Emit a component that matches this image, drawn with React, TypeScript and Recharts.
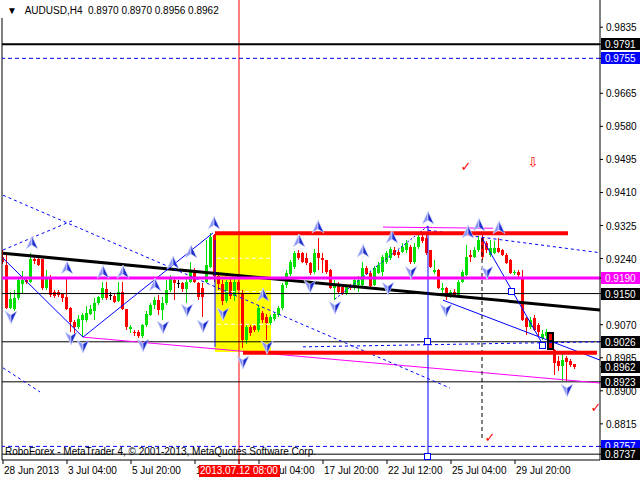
import { ComposedChart, Bar, Scatter, XAxis, YAxis, ReferenceLine, ReferenceArea } from 'recharts';

const FONT = '"Liberation Sans", Arial, sans-serif';
const GREEN = '#00e000';
const RED = '#ff0000';
const BLUE = '#0000ff';
const MAGENTA = '#ff00ff';

// AUDUSD H4, first bar 28 Jun 2013 12:00 -- [open, high, low, close]
const candles = [
  [0.9245, 0.9262, 0.9225, 0.9232], [0.9223, 0.9254, 0.9110, 0.9113], [0.9113, 0.9155, 0.9110, 0.9135], [0.9110, 0.9159, 0.9105, 0.9138],
  [0.9138, 0.9190, 0.9133, 0.9185], [0.9175, 0.9207, 0.9152, 0.9185], [0.9185, 0.9190, 0.9175, 0.9181], [0.9181, 0.9254, 0.9176, 0.9238],
  [0.9238, 0.9244, 0.9225, 0.9234], [0.9238, 0.9250, 0.9220, 0.9223], [0.9238, 0.9240, 0.9160, 0.9164], [0.9164, 0.9211, 0.9159, 0.9187],
  [0.9187, 0.9198, 0.9142, 0.9146], [0.9155, 0.9160, 0.9138, 0.9144], [0.9155, 0.9159, 0.9141, 0.9146], [0.9149, 0.9151, 0.9129, 0.9138],
  [0.9142, 0.9190, 0.9108, 0.9110], [0.9112, 0.9115, 0.9050, 0.9078], [0.9078, 0.9082, 0.9044, 0.9063], [0.9063, 0.9095, 0.9060, 0.9085],
  [0.9082, 0.9100, 0.9038, 0.9095], [0.9082, 0.9118, 0.9078, 0.9100], [0.9098, 0.9121, 0.9095, 0.9110], [0.9106, 0.9138, 0.9082, 0.9125],
  [0.9125, 0.9144, 0.9121, 0.9141], [0.9138, 0.9181, 0.9133, 0.9164], [0.9161, 0.9181, 0.9133, 0.9138], [0.9146, 0.9155, 0.9133, 0.9146],
  [0.9144, 0.9151, 0.9126, 0.9129], [0.9131, 0.9181, 0.9129, 0.9155], [0.9155, 0.9181, 0.9108, 0.9110], [0.9110, 0.9110, 0.9056, 0.9063],
  [0.9060, 0.9069, 0.9048, 0.9065], [0.9052, 0.9056, 0.9040, 0.9048], [0.9052, 0.9056, 0.9035, 0.9041], [0.9041, 0.9073, 0.9035, 0.9069],
  [0.9069, 0.9104, 0.9065, 0.9098], [0.9095, 0.9125, 0.9092, 0.9121], [0.9121, 0.9140, 0.9110, 0.9133], [0.9133, 0.9146, 0.9095, 0.9108],
  [0.9108, 0.9140, 0.9082, 0.9126], [0.9126, 0.9184, 0.9121, 0.9159], [0.9159, 0.9198, 0.9155, 0.9190], [0.9185, 0.9192, 0.9133, 0.9177],
  [0.9177, 0.9185, 0.9164, 0.9177], [0.9177, 0.9180, 0.9154, 0.9161], [0.9161, 0.9190, 0.9126, 0.9180], [0.9180, 0.9231, 0.9177, 0.9205],
  [0.9211, 0.9216, 0.9177, 0.9180], [0.9177, 0.9180, 0.9133, 0.9141], [0.9164, 0.9177, 0.9090, 0.9141], [0.9180, 0.9288, 0.9177, 0.9223],
  [0.9218, 0.9305, 0.9215, 0.9295], [0.9300, 0.9303, 0.9180, 0.9195], [0.9195, 0.9205, 0.9160, 0.9175], [0.9175, 0.9185, 0.9120, 0.9130],
  [0.9130, 0.9185, 0.9125, 0.9180], [0.9180, 0.9190, 0.9135, 0.9145], [0.9145, 0.9190, 0.9130, 0.9180], [0.9180, 0.9185, 0.9150, 0.9158],
  [0.9152, 0.9160, 0.9010, 0.9031], [0.9031, 0.9070, 0.9020, 0.9064], [0.9064, 0.9069, 0.9040, 0.9048], [0.9066, 0.9070, 0.9050, 0.9056],
  [0.9056, 0.9120, 0.9050, 0.9113], [0.9100, 0.9105, 0.9075, 0.9082], [0.9090, 0.9098, 0.9031, 0.9074], [0.9074, 0.9095, 0.9069, 0.9090],
  [0.9085, 0.9102, 0.9080, 0.9098], [0.9095, 0.9118, 0.9090, 0.9113], [0.9113, 0.9177, 0.9108, 0.9172], [0.9172, 0.9210, 0.9165, 0.9203],
  [0.9200, 0.9236, 0.9195, 0.9231], [0.9218, 0.9260, 0.9213, 0.9254], [0.9254, 0.9262, 0.9236, 0.9241], [0.9254, 0.9257, 0.9228, 0.9231],
  [0.9241, 0.9254, 0.9223, 0.9228], [0.9228, 0.9231, 0.9198, 0.9203], [0.9205, 0.9265, 0.9200, 0.9254], [0.9254, 0.9293, 0.9211, 0.9241],
  [0.9241, 0.9254, 0.9203, 0.9236], [0.9236, 0.9236, 0.9200, 0.9205], [0.9211, 0.9213, 0.9161, 0.9164], [0.9164, 0.9185, 0.9133, 0.9172],
  [0.9170, 0.9180, 0.9150, 0.9154], [0.9167, 0.9170, 0.9146, 0.9149], [0.9149, 0.9172, 0.9146, 0.9170], [0.9172, 0.9175, 0.9159, 0.9164],
  [0.9167, 0.9190, 0.9159, 0.9185], [0.9172, 0.9195, 0.9155, 0.9185], [0.9172, 0.9231, 0.9170, 0.9216], [0.9216, 0.9220, 0.9198, 0.9200],
  [0.9203, 0.9208, 0.9167, 0.9170], [0.9172, 0.9220, 0.9170, 0.9216], [0.9203, 0.9231, 0.9200, 0.9223], [0.9205, 0.9249, 0.9195, 0.9244],
  [0.9231, 0.9260, 0.9226, 0.9254], [0.9241, 0.9270, 0.9236, 0.9265], [0.9262, 0.9270, 0.9246, 0.9249], [0.9257, 0.9262, 0.9241, 0.9249],
  [0.9257, 0.9280, 0.9254, 0.9270], [0.9262, 0.9288, 0.9254, 0.9280], [0.9270, 0.9275, 0.9226, 0.9231], [0.9231, 0.9280, 0.9226, 0.9270],
  [0.9270, 0.9300, 0.9265, 0.9295], [0.9295, 0.9300, 0.9280, 0.9285], [0.9293, 0.9300, 0.9249, 0.9254], [0.9262, 0.9262, 0.9216, 0.9218],
  [0.9205, 0.9236, 0.9201, 0.9211], [0.9211, 0.9213, 0.9162, 0.9164], [0.9159, 0.9177, 0.9150, 0.9164], [0.9164, 0.9167, 0.9133, 0.9141],
  [0.9141, 0.9159, 0.9138, 0.9154], [0.9154, 0.9162, 0.9141, 0.9146], [0.9146, 0.9185, 0.9144, 0.9180], [0.9180, 0.9211, 0.9177, 0.9205],
  [0.9198, 0.9275, 0.9195, 0.9244], [0.9249, 0.9262, 0.9231, 0.9244], [0.9244, 0.9270, 0.9241, 0.9262], [0.9262, 0.9298, 0.9257, 0.9288],
  [0.9293, 0.9300, 0.9236, 0.9244], [0.9280, 0.9285, 0.9254, 0.9262], [0.9249, 0.9288, 0.9244, 0.9267], [0.9254, 0.9285, 0.9251, 0.9267],
  [0.9267, 0.9293, 0.9254, 0.9257], [0.9262, 0.9265, 0.9246, 0.9249], [0.9249, 0.9254, 0.9226, 0.9228], [0.9236, 0.9240, 0.9200, 0.9203],
  [0.9203, 0.9211, 0.9198, 0.9206], [0.9206, 0.9211, 0.9193, 0.9198], [0.9193, 0.9211, 0.9080, 0.9082], [0.9087, 0.9090, 0.9043, 0.9064],
  [0.9064, 0.9090, 0.9060, 0.9082], [0.9087, 0.9095, 0.9054, 0.9056], [0.9069, 0.9074, 0.9040, 0.9051], [0.9036, 0.9056, 0.9030, 0.9046],
  [0.9040, 0.9060, 0.9030, 0.9052], [0.9046, 0.9050, 0.9005, 0.9010], [0.9005, 0.9008, 0.8941, 0.8972], [0.8977, 0.8990, 0.8950, 0.8964],
  [0.8964, 0.8995, 0.8926, 0.8979], [0.8985, 0.8990, 0.8925, 0.8975], [0.8977, 0.8983, 0.8962, 0.8966], [0.8970, 0.8970, 0.8956, 0.8962],
];

const timeTicks = [0, 16, 32, 48, 64, 80, 96, 112, 128];
const timeLabels = ['28 Jun 2013', '3 Jul 04:00', '5 Jul 20:00', '10 Jul 12:00', '15 Jul 04:00', '17 Jul 20:00', '22 Jul 12:00', '25 Jul 04:00', '29 Jul 20:00'];
const cursorBar = 59;
const cursorLabel = '2013.07.12 08:00';
const priceTicks = [0.9835, 0.9665, 0.958, 0.9495, 0.941, 0.9325, 0.924, 0.907, 0.8985, 0.89, 0.8815];
// prices flagged on the right scale
const tagPrices = [0.9791, 0.9755, 0.919, 0.915, 0.9026, 0.8962, 0.8923, 0.8757, 0.8737];
const blueTags = [0.9755, 0.8757];
const pinkTags = [0.919];

// fractal arrows [bar, price]
const upFractals = [
  [7.25, 0.928], [16, 0.9216], [25, 0.9205], [30, 0.9205], [38, 0.9172], [42.5, 0.9229], [47, 0.9257], [52.75, 0.9331],
  [65, 0.9146], [74, 0.9285], [78.75, 0.9321], [90, 0.9259], [97.25, 0.9295], [106.25, 0.9344], [116.25, 0.9308], [119, 0.9326], [124, 0.9319],
];
const downFractals = [
  [2, 0.909], [17, 0.9036], [20, 0.9015], [35, 0.9018], [40, 0.9064], [46, 0.9108], [50, 0.9067], [55, 0.9098], [60, 0.8974],
  [66, 0.9013], [76.75, 0.9169], [83, 0.9115], [96.25, 0.9164], [102, 0.9205], [110.75, 0.9108], [121, 0.9205], [141, 0.8902],
];
const checkMarks = [[115.75, 0.9478], [121.75, 0.8781], [148.25, 0.8856]];
const sellSignal = [[132.5, 0.9488]];
const anchorSquares = [[106.25, 0.9026], [106.25, 0.873], [127.25, 0.9154], [135, 0.9015]];
const stopMark = [[136.75, 0.9025]];

// drawn objects [bar, price] -> [bar, price]
const blackTrend = [[0, 0.9254], [149.25, 0.9108]];
const pinkSupport = [[20, 0.9038], [149.25, 0.892]];
const pinkTop = [[95, 0.9321], [122.5, 0.9318]];
const boxTop = [[53, 0.9305], [141.25, 0.9305]];
const boxBottom = [[60, 0.8998], [148.5, 0.8998]];
const dashFall = [[0, 0.9403], [111.75, 0.8907]];
const dashRise = [[0, 0.9262], [17.25, 0.9337]];
const dashLow = [[0, 0.8959], [9.25, 0.8897]];
const dashFlat = [[75, 0.9013], [149.25, 0.9026]];
const dashUpper = [[106.25, 0.9313], [149.25, 0.9255]];
const dashClimb = [[83, 0.9136], [106.25, 0.9324]];
const zigA = [[0, 0.9241], [20, 0.9038]];
const zigB = [[20, 0.9038], [52.5, 0.9306]];
const zigC = [[119.75, 0.9293], [135, 0.9018]];
const channelLow = [[110, 0.9133], [149.25, 0.8979]];
const blueVertA = [[53, 0.9288], [53, 0.9013]];
const blueVertB = [[106.25, 0.9324], [106.25, 0.8724]];
const blackVert = [[119.75, 0.9293], [119.75, 0.8774]];
const fibLevels = [0.9241, 0.9155, 0.9071];

const rows = candles.map(([o, h, l, c], i) => ({ i, o, h, l, c, range: [l, h] }));
const pts = (list: number[][]) => list.map(([i, p]) => ({ i, p }));
const seg = (s: number[][]) => [{ x: s[0][0], y: s[0][1] }, { x: s[1][0], y: s[1][1] }];

const Candle = (props: any) => {
  const { x, y, width, height, payload } = props;
  if (!payload || x == null || y == null) return null;
  const { o, h, l, c } = payload;
  const top = Math.min(y, y + height);
  const span = Math.abs(height);
  const toY = (v: number) => (h === l ? top : top + ((h - v) / (h - l)) * span);
  const color = c > o ? GREEN : c < o ? RED : '#000';
  const left = Math.round(x + width / 2 - 1.5);
  const bTop = Math.round(toY(Math.max(o, c)));
  const bBot = Math.round(toY(Math.min(o, c)));
  return (
    <g>
      <rect x={left + 1} y={Math.round(top)} width={1} height={Math.max(1, Math.round(top + span) - Math.round(top))} fill={color} />
      <rect x={left} y={bTop} width={3} height={Math.max(1, bBot - bTop)} fill={color} />
    </g>
  );
};

const FractalUp = ({ cx, cy }: any) => (
  <g stroke="#dfe2ff" strokeWidth={0.6}>
    <path d={`M${cx},${cy - 7}L${cx},${cy + 2}L${cx - 6},${cy + 6}Z`} fill="#8d96f4" />
    <path d={`M${cx},${cy - 7}L${cx + 6},${cy + 6}L${cx},${cy + 2}Z`} fill="#1d2ccf" />
  </g>
);

const FractalDown = ({ cx, cy }: any) => (
  <g stroke="#dfe2ff" strokeWidth={0.6}>
    <path d={`M${cx},${cy + 7}L${cx},${cy - 2}L${cx - 6},${cy - 6}Z`} fill="#8d96f4" />
    <path d={`M${cx},${cy + 7}L${cx + 6},${cy - 6}L${cx},${cy - 2}Z`} fill="#1d2ccf" />
  </g>
);

const Glyph = ({ cx, cy, char }: any) => (
  <text x={cx} y={cy} textAnchor="middle" dominantBaseline="central" fontSize={13} fontFamily="DejaVu Sans" fill={RED}>
    {char}
  </text>
);

const Square = ({ cx, cy }: any) => (
  <rect x={Math.round(cx) - 3.5} y={Math.round(cy) - 3.5} width={6} height={6} fill="#fff" stroke={BLUE} />
);

const StopGlyph = ({ cx, cy }: any) => (
  <g fill="none" stroke="#000" strokeWidth={2}>
    <rect x={Math.round(cx) - 2} y={Math.round(cy) - 9} width={5} height={8} />
    <rect x={Math.round(cx) - 2} y={Math.round(cy) - 1} width={5} height={8} />
  </g>
);

const PriceTick = ({ x, y, payload }: any) => {
  const v = payload.value;
  const text = v.toFixed(4);
  if (!tagPrices.includes(v)) {
    return (
      <text x={x} y={y + 4} textAnchor="start" fontSize={10} fontFamily={FONT} fill="#000">{text}</text>
    );
  }
  const bg = blueTags.includes(v) ? BLUE : pinkTags.includes(v) ? MAGENTA : '#000';
  const top = Math.round(y) - 6;
  return (
    <g>
      <rect x={601} y={top} width={39} height={12} fill={bg} />
      <text x={x - 1} y={top + 10} textAnchor="start" fontSize={10} fontFamily={FONT} fill="#fff">{text}</text>
    </g>
  );
};

const TimeTick = ({ x, y, payload }: any) => {
  const v = payload.value;
  if (v === cursorBar) {
    return (
      <g>
        <line x1={x} x2={x} y1={y - 6} y2={y - 2} stroke={RED} />
        <rect x={x - 40} y={y - 1} width={81} height={12} fill={RED} />
        <text x={x} y={y + 8} textAnchor="middle" fontSize={10} fontFamily={FONT} fill="#fff">{cursorLabel}</text>
      </g>
    );
  }
  return (
    <text x={x + 1} y={y + 8} textAnchor="start" fontSize={10} fontFamily={FONT} fill="#000">
      {timeLabels[timeTicks.indexOf(v)]}
    </text>
  );
};

const App = () => {
  return (
    <div style={{ position: 'absolute', top: 0, left: 0, width: 640, height: 480, background: '#fff' }}>
      <ComposedChart width={640} height={480} data={rows} margin={{ top: 0, right: 0, bottom: 0, left: 2 }}>
        <XAxis
          dataKey="i"
          type="number"
          domain={[-0.25, 149.25]}
          ticks={[...timeTicks, cursorBar]}
          interval={0}
          allowDataOverflow
          height={20}
          tickSize={4}
          tickMargin={2}
          stroke="#000"
          tick={<TimeTick />}
        />
        <YAxis
          orientation="right"
          type="number"
          domain={[0.8722, 0.9905]}
          ticks={[...priceTicks, ...tagPrices]}
          interval={0}
          allowDataOverflow
          width={40}
          tickSize={3}
          tickMargin={3}
          stroke="#000"
          tick={<PriceTick />}
        />

        <ReferenceArea x1={53} x2={67} y1={0.9} y2={0.9306} fill="#ffff00" fillOpacity={1} stroke="none" ifOverflow="visible" />
        {fibLevels.map((p) => (
          <ReferenceLine key={p} segment={[{ x: 53.5, y: p }, { x: 67, y: p }]} stroke="#fff" strokeDasharray="4 3" ifOverflow="visible" />
        ))}

        <Bar dataKey="range" barSize={3} shape={<Candle />} isAnimationActive={false} />

        <ReferenceLine x={-0.25} stroke="#000" ifOverflow="visible" />
        <ReferenceLine x={cursorBar} stroke={RED} ifOverflow="visible" />

        <ReferenceLine y={0.9791} stroke="#000" strokeWidth={2} ifOverflow="visible" />
        <ReferenceLine y={0.9755} stroke={BLUE} strokeDasharray="4 3" ifOverflow="visible" />
        <ReferenceLine y={0.915} stroke="#000" ifOverflow="visible" />
        <ReferenceLine y={0.9026} stroke="#000" ifOverflow="visible" />
        <ReferenceLine y={0.8923} stroke="#000" ifOverflow="visible" />
        <ReferenceLine y={0.8757} stroke={BLUE} strokeDasharray="4 3" ifOverflow="visible" />
        <ReferenceLine y={0.8737} stroke="#000" ifOverflow="visible" />

        <ReferenceLine segment={seg(blackTrend)} stroke="#000" strokeWidth={3} ifOverflow="visible" />
        <ReferenceLine segment={seg(pinkSupport)} stroke={MAGENTA} ifOverflow="visible" />
        <ReferenceLine segment={seg(pinkTop)} stroke={MAGENTA} ifOverflow="visible" />
        <ReferenceLine segment={seg(dashFall)} stroke={BLUE} strokeDasharray="3 3" ifOverflow="visible" />
        <ReferenceLine segment={seg(dashRise)} stroke={BLUE} strokeDasharray="3 3" ifOverflow="visible" />
        <ReferenceLine segment={seg(dashLow)} stroke={BLUE} strokeDasharray="3 3" ifOverflow="visible" />
        <ReferenceLine segment={seg(dashFlat)} stroke={BLUE} strokeDasharray="3 3" ifOverflow="visible" />
        <ReferenceLine segment={seg(dashUpper)} stroke={BLUE} strokeDasharray="3 3" ifOverflow="visible" />
        <ReferenceLine segment={seg(dashClimb)} stroke={BLUE} strokeDasharray="2 2" ifOverflow="visible" />
        <ReferenceLine segment={seg(zigA)} stroke={BLUE} ifOverflow="visible" />
        <ReferenceLine segment={seg(zigB)} stroke={BLUE} ifOverflow="visible" />
        <ReferenceLine segment={seg(zigC)} stroke={BLUE} ifOverflow="visible" />
        <ReferenceLine segment={seg(channelLow)} stroke={BLUE} ifOverflow="visible" />
        <ReferenceLine segment={seg(blueVertA)} stroke={BLUE} ifOverflow="visible" />
        <ReferenceLine segment={seg(blueVertB)} stroke={BLUE} ifOverflow="visible" />
        <ReferenceLine segment={seg(blackVert)} stroke="#000" strokeDasharray="4 3" ifOverflow="visible" />
        <ReferenceLine segment={seg(boxTop)} stroke={RED} strokeWidth={4} ifOverflow="visible" />
        <ReferenceLine segment={seg(boxBottom)} stroke={RED} strokeWidth={4} ifOverflow="visible" />
        <ReferenceLine y={0.919} stroke={MAGENTA} strokeWidth={3} ifOverflow="visible" />

        <Scatter data={pts(upFractals)} dataKey="p" shape={<FractalUp />} isAnimationActive={false} />
        <Scatter data={pts(downFractals)} dataKey="p" shape={<FractalDown />} isAnimationActive={false} />
        <Scatter data={pts(anchorSquares)} dataKey="p" shape={<Square />} isAnimationActive={false} />
        <Scatter data={pts(stopMark)} dataKey="p" shape={<StopGlyph />} isAnimationActive={false} />
        <Scatter data={pts(checkMarks)} dataKey="p" shape={<Glyph char="✓" />} isAnimationActive={false} />
        <Scatter data={pts(sellSignal)} dataKey="p" shape={<Glyph char="⇩" />} isAnimationActive={false} />
      </ComposedChart>

      <div style={{ position: 'absolute', top: 0, left: 0, height: 18, padding: '0 4px 0 7px', background: '#fff', fontFamily: FONT, fontSize: 10, lineHeight: '21px', color: '#000', whiteSpace: 'pre' }}>
        {'▼   AUDUSD,H4  0.8970 0.8970 0.8956 0.8962'}
      </div>
      <div style={{ position: 'absolute', top: 446, left: 5, fontFamily: FONT, fontSize: 10, lineHeight: '12px', color: '#000', whiteSpace: 'pre' }}>
        {'RoboForex - MetaTrader 4, © 2001-2013, MetaQuotes Software Corp.'}
      </div>
    </div>
  );
};

export default App;
